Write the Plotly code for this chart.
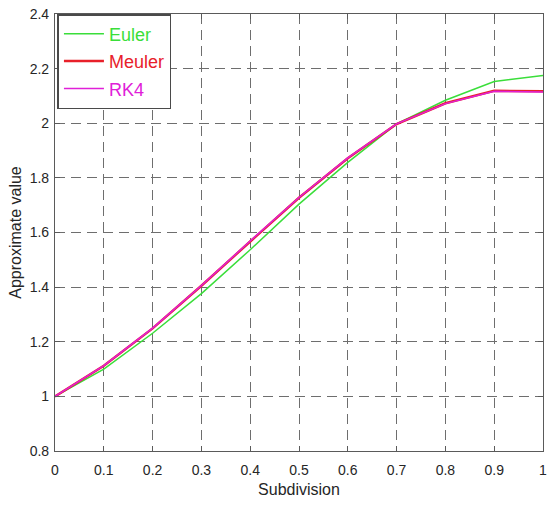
import plotly.graph_objects as go

# Subdivision points and approximate solutions from the three schemes
subdivision = [0.0, 0.1, 0.2, 0.3, 0.4, 0.5, 0.6, 0.7, 0.8, 0.9, 1.0]
euler = [1.000, 1.100, 1.231, 1.376, 1.537, 1.704, 1.857, 1.998, 2.084, 2.153, 2.175]
meuler = [1.000, 1.112, 1.249, 1.405, 1.567, 1.727, 1.872, 1.997, 2.073, 2.119, 2.117]
rk4 = [1.000, 1.113, 1.250, 1.406, 1.569, 1.728, 1.873, 1.998, 2.072, 2.117, 2.114]

x_ticks = [0, 0.1, 0.2, 0.3, 0.4, 0.5, 0.6, 0.7, 0.8, 0.9, 1]
x_tick_text = ["0", "0.1", "0.2", "0.3", "0.4", "0.5", "0.6", "0.7", "0.8", "0.9", "1"]
y_ticks = [0.8, 1.0, 1.2, 1.4, 1.6, 1.8, 2.0, 2.2, 2.4]
y_tick_text = ["0.8", "1", "1.2", "1.4", "1.6", "1.8", "2", "2.2", "2.4"]

series = [
    ("Euler", euler, "#3ade3a", 1.5),
    ("Meuler", meuler, "#e8202a", 2.5),
    ("RK4", rk4, "#e020d8", 1.5),
]

fig = go.Figure()
for name, values, color, width in series:
    fig.add_trace(go.Scatter(
        x=subdivision, y=values, mode="lines",
        name=f"<span style='color:{color}'>{name}</span>",
        legendgroup=name,
        line=dict(color=color, width=width),
    ))

axis_common = dict(
    showgrid=True, gridcolor="#6e6e6e", gridwidth=1, griddash="10px,6px",
    showline=True, linecolor="#5a5a5a", linewidth=1.2, mirror="ticks",
    ticks="inside", ticklen=5, tickcolor="#5a5a5a",
    zeroline=False, tickfont=dict(size=14, color="#262626"),
    ticklabeloverflow="allow",
)

fig.update_layout(
    width=551, height=506,
    margin=dict(l=55, r=4, t=14, b=55),
    paper_bgcolor="white", plot_bgcolor="white",
    font=dict(family="Liberation Sans, Arial, sans-serif", color="#262626"),
    xaxis=dict(range=[0, 1], tickvals=x_ticks, ticktext=x_tick_text,
               ticklabelstandoff=6,
               title=dict(text="Subdivision", font=dict(size=16), standoff=6),
               **axis_common),
    yaxis=dict(range=[0.8, 2.4], tickvals=y_ticks, ticktext=y_tick_text,
               ticklabelstandoff=2,
               title=dict(text="Approximate value", font=dict(size=16), standoff=4),
               **axis_common),
    legend=dict(x=0.005, y=1, xanchor="left", yanchor="top",
                bgcolor="white", bordercolor="#4a4a4a", borderwidth=1.5,
                font=dict(size=18), tracegroupgap=1, itemwidth=40),
    showlegend=True,
)

fig.write_html("out.html")
